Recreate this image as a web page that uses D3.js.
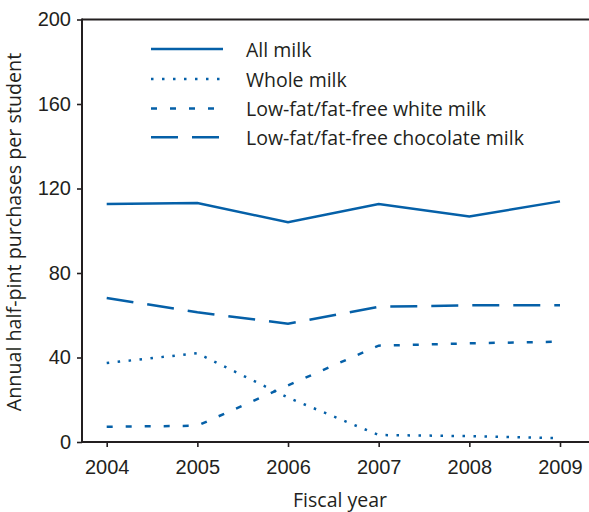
<!DOCTYPE html>
<html>
<head>
<meta charset="utf-8">
<script src="https://cdn.jsdelivr.net/npm/d3@7"></script>
<style>
  html, body { margin: 0; padding: 0; background: #fff; }
  svg { display: block; font-family: "Open Sans", "Noto Sans", sans-serif; }
</style>
</head>
<body>
<svg id="chart" width="589" height="512"></svg>
<script>
const years = [2004, 2005, 2006, 2007, 2008, 2009];
const allMilk = [112.7, 113.1, 104.0, 112.7, 106.8, 113.9];
const wholeMilk = [37.4, 42.0, 21.0, 3.3, 2.8, 1.8];
const lowFatWhite = [7.2, 7.7, 26.8, 45.6, 46.7, 47.5];
const lowFatChocolate = [68.2, 61.4, 56.0, 64.0, 64.7, 64.7];
const seriesNames = ["All milk", "Whole milk", "Low-fat/fat-free white milk", "Low-fat/fat-free chocolate milk"];
const yTicks = [0, 40, 80, 120, 160, 200];

const series = [
  { name: seriesNames[0], values: allMilk, dash: null },
  { name: seriesNames[1], values: wholeMilk, dash: "2.5,8.5" },
  { name: seriesNames[2], values: lowFatWhite, dash: "6,13" },
  { name: seriesNames[3], values: lowFatChocolate, dash: "27,14" }
];

const color = "#0560a8";
const axisColor = "#231f20";
const textColor = "#231f20";

const svg = d3.select("#chart");
const mLeft = 82, mRight = 589, mTop = 19.5, mBottom = 442;

const x = d3.scaleLinear().domain([2004, 2009]).range([106.7, 560]);
const y = d3.scaleLinear().domain([0, 200]).range([mBottom, mTop]);

// frame top
svg.append("line")
  .attr("x1", mLeft).attr("x2", mRight)
  .attr("y1", mTop).attr("y2", mTop)
  .attr("stroke", axisColor).attr("stroke-width", 2);

// x axis
const xAxis = svg.append("g")
  .attr("transform", `translate(0,${mBottom})`)
  .call(d3.axisBottom(x).tickValues(years).tickFormat(d3.format("d")).tickSizeOuter(0).tickSize(5).tickPadding(13));
xAxis.select(".domain").remove();
xAxis.append("line").attr("x1", mLeft).attr("x2", mRight).attr("stroke", axisColor).attr("stroke-width", 2);
xAxis.selectAll(".tick line").attr("stroke", axisColor).attr("stroke-width", 1.6);
xAxis.selectAll(".tick text").attr("fill", textColor).style("font-size", "20px");

// y axis
const yAxis = svg.append("g")
  .attr("transform", `translate(${mLeft},0)`)
  .call(d3.axisLeft(y).tickValues(yTicks).tickSizeOuter(0).tickSize(5).tickPadding(6));
yAxis.select(".domain").remove();
yAxis.append("line").attr("y1", mTop - 1).attr("y2", mBottom + 1).attr("stroke", axisColor).attr("stroke-width", 2);
yAxis.selectAll(".tick line").attr("stroke", axisColor).attr("stroke-width", 1.6);
yAxis.selectAll(".tick text").attr("fill", textColor).style("font-size", "20px");

// lines
const line = d3.line().x((d, i) => x(years[i])).y(d => y(d));
svg.append("g").selectAll("path").data(series).join("path")
  .attr("d", d => line(d.values))
  .attr("fill", "none")
  .attr("stroke", color)
  .attr("stroke-width", 2.5)
  .attr("stroke-dasharray", d => d.dash);

// legend
const legendY = [49, 79, 108.5, 137.3];
const lg = svg.append("g").selectAll("g").data(series).join("g")
  .attr("transform", (d, i) => `translate(151,${legendY[i]})`);
lg.append("line").attr("x1", 0).attr("x2", 72).attr("y1", 0).attr("y2", 0)
  .attr("stroke", color).attr("stroke-width", 2.5)
  .attr("stroke-dasharray", d => d.dash);
lg.append("text").attr("x", 95).attr("y", 7.5)
  .attr("fill", textColor).style("font-size", "19.5px")
  .text(d => d.name);

// axis titles
svg.append("text")
  .attr("x", 340).attr("y", 507)
  .attr("text-anchor", "middle").attr("fill", textColor)
  .style("font-size", "19.5px").text("Fiscal year");
svg.append("text")
  .attr("transform", `translate(21,232) rotate(-90)`)
  .attr("text-anchor", "middle").attr("fill", textColor)
  .style("font-size", "19.7px").text("Annual half-pint purchases per student");
</script>
</body>
</html>
